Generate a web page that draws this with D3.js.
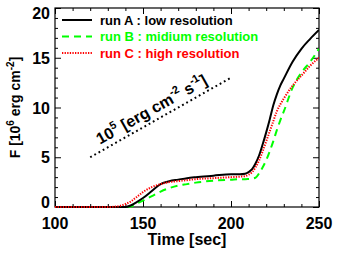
<!DOCTYPE html>
<html lang="en">
<head>
<meta charset="UTF-8">
<title>Flux vs time</title>
<script src="https://cdn.jsdelivr.net/npm/d3@7"></script>
<style>
    body { margin: 0; background: #ffffff; }
    svg text { font-family: "Liberation Sans", Arial, sans-serif; font-weight: bold; }
</style>
</head>
<body>
<div id="chart"></div>
<script>
    var WIDTH = 345;
    var HEIGHT = 256;
    var MARGIN = {top: 8, right: 26, bottom: 49, left: 55};

    // data
    var TIME = [100, 110, 120, 130, 135, 140, 143, 146, 150, 155, 160, 165, 170, 175, 180, 190, 200,
                205, 208, 210, 212, 214, 216, 218, 220, 222, 224, 226, 228, 230, 235, 240, 245, 250];
    var RUN_A = [0, 0, 0, 0, 0, 0, 0.15, 0.45, 0.9, 1.6, 2.3, 2.6, 2.75, 2.9, 3.0, 3.15, 3.3,
                 3.3, 3.35, 3.5, 3.8, 4.4, 5.2, 6.3, 7.5, 8.8, 10.2, 11.3, 12.2, 12.9, 14.6, 15.9, 16.9, 17.8];
    var RUN_B = [0, 0, 0, 0, 0, 0, 0.05, 0.3, 0.65, 1.1, 1.55, 1.9, 2.15, 2.3, 2.45, 2.65, 2.75,
                 2.8, 2.8, 2.82, 2.85, 2.95, 3.4, 4.0, 4.7, 5.6, 6.6, 7.7, 8.7, 9.6, 12.0, 13.5, 14.6, 15.9];
    var RUN_C = [0, 0, 0, 0, 0.05, 0.3, 0.55, 0.95, 1.5, 2.0, 2.3, 2.5, 2.6, 2.7, 2.8, 2.9, 3.0,
                 3.05, 3.1, 3.25, 3.5, 4.0, 4.7, 5.6, 6.6, 7.6, 8.6, 9.6, 10.3, 10.9, 12.2, 13.2, 14.2, 15.0];
    var SERIES_LABELS = ["run A : low resolution", "run B : midium resolution", "run C : high resolution"];
    var SERIES_COLORS = ["#000000", "#00ff00", "#ff0000"];
    var SERIES_DASH = [null, "7,5", "1.3,1.3"];
    var SLOPE_X = [120, 200];
    var SLOPE_Y = [5, 13];
    var X_TICKS = [100, 150, 200, 250];
    var Y_TICKS = [0, 5, 10, 15, 20];

    var innerW = WIDTH - MARGIN.left - MARGIN.right;
    var innerH = HEIGHT - MARGIN.top - MARGIN.bottom;

    var svg = d3.select("#chart").append("svg")
        .attr("width", WIDTH)
        .attr("height", HEIGHT);

    var g = svg.append("g")
        .attr("transform", "translate(" + MARGIN.left + "," + MARGIN.top + ")");

    var x = d3.scaleLinear().domain([100, 250]).range([0, innerW]);
    var y = d3.scaleLinear().domain([0, 20]).range([innerH, 0]);

    g.append("clipPath").attr("id", "plotClip")
        .append("rect").attr("width", innerW).attr("height", innerH + 1);

    // IDL style ticks on all four sides, pointing inward
    function tickAxis(axisFn, scale, majors, minorStep, transform) {
        var minors = d3.range(scale.domain()[0], scale.domain()[1] + 0.001, minorStep)
            .filter(function(v){ return majors.indexOf(v) === -1; });
        var a1 = g.append("g").attr("transform", transform)
            .call(axisFn(scale).tickValues(majors).tickSize(-6).tickFormat(""));
        var a2 = g.append("g").attr("transform", transform)
            .call(axisFn(scale).tickValues(minors).tickSize(-3).tickFormat(""));
        [a1, a2].forEach(function(a){
            a.select(".domain").remove();
            a.selectAll("line").attr("stroke", "#000").attr("stroke-width", 1);
        });
    }
    tickAxis(d3.axisBottom, x, X_TICKS, 10, "translate(0," + innerH + ")");
    tickAxis(d3.axisTop, x, X_TICKS, 10, "translate(0,0)");
    tickAxis(d3.axisLeft, y, Y_TICKS, 1, "translate(0,0)");
    tickAxis(d3.axisRight, y, Y_TICKS, 1, "translate(" + innerW + ",0)");

    g.append("rect")
        .attr("width", innerW).attr("height", innerH)
        .attr("fill", "none").attr("stroke", "#000").attr("stroke-width", 1.2);

    // tick labels
    g.selectAll("text.xl").data(X_TICKS).enter().append("text")
        .attr("class", "xl")
        .attr("x", function(d){ return x(d); })
        .attr("y", innerH + 21.5)
        .attr("text-anchor", "middle")
        .style("font-size", "16px")
        .text(function(d){ return d; });

    // end labels are kept just inside the frame, like the original
    g.selectAll("text.yl").data(Y_TICKS).enter().append("text")
        .attr("class", "yl")
        .attr("x", -5)
        .attr("y", function(d){ return Math.min(Math.max(y(d), 5), innerH - 5) + 6; })
        .attr("text-anchor", "end")
        .style("font-size", "16px")
        .text(function(d){ return d; });

    g.append("text")
        .attr("x", innerW / 2)
        .attr("y", innerH + 37.5)
        .attr("text-anchor", "middle")
        .style("font-size", "16px")
        .text("Time [sec]");

    var yTitle = svg.append("text")
        .attr("transform", "translate(20," + (MARGIN.top + innerH / 2) + ") rotate(-90)")
        .attr("text-anchor", "middle")
        .style("font-size", "14px");
    yTitle.append("tspan").text("F  [10");
    yTitle.append("tspan").attr("dy", -6).style("font-size", "10px").text("6");
    yTitle.append("tspan").attr("dy", 6).text(" erg cm");
    yTitle.append("tspan").attr("dy", -6).style("font-size", "10px").text("-2");
    yTitle.append("tspan").attr("dy", 6).text("]");

    // reference slope line
    var slopeData = SLOPE_X.map(function(v, i){ return [v, SLOPE_Y[i]]; });
    var line = d3.line()
        .x(function(d){ return x(d[0]); })
        .y(function(d){ return y(d[1]); });
    g.append("path")
        .datum(slopeData)
        .attr("d", line)
        .attr("fill", "none")
        .attr("stroke", "#000")
        .attr("stroke-width", 2)
        .attr("stroke-dasharray", "1.8,3");

    var angle = Math.atan2(y(SLOPE_Y[1]) - y(SLOPE_Y[0]), x(SLOPE_X[1]) - x(SLOPE_X[0])) * 180 / Math.PI;
    var midX = 158;
    var midY = SLOPE_Y[0] + (SLOPE_Y[1] - SLOPE_Y[0]) * (midX - SLOPE_X[0]) / (SLOPE_X[1] - SLOPE_X[0]);
    var slopeText = g.append("text")
        .attr("transform", "translate(" + x(midX) + "," + y(midY) + ") rotate(" + angle + ")")
        .attr("y", -6)
        .attr("text-anchor", "middle")
        .style("font-size", "16px");
    slopeText.append("tspan").text("10");
    slopeText.append("tspan").attr("dy", -7).style("font-size", "11px").text("5");
    slopeText.append("tspan").attr("dy", 7).text(" [erg cm");
    slopeText.append("tspan").attr("dy", -7).style("font-size", "11px").text("-2");
    slopeText.append("tspan").attr("dy", 7).text(" s");
    slopeText.append("tspan").attr("dy", -7).style("font-size", "11px").text("-1");
    slopeText.append("tspan").attr("dy", 7).text("]");

    // curves
    var curve = d3.line()
        .x(function(d){ return x(d[0]); })
        .y(function(d){ return y(d[1]); })
        .curve(d3.curveMonotoneX);
    var runs = [RUN_A, RUN_B, RUN_C];
    var drawOrder = [1, 0, 2];
    drawOrder.forEach(function(i){
        g.append("path")
            .datum(TIME.map(function(t, k){ return [t, runs[i][k]]; }))
            .attr("d", curve)
            .attr("clip-path", "url(#plotClip)")
            .attr("fill", "none")
            .attr("stroke", SERIES_COLORS[i])
            .attr("stroke-width", 2)
            .attr("stroke-dasharray", SERIES_DASH[i]);
    });

    // legend
    var legend = g.append("g").attr("transform", "translate(7,12)");
    SERIES_LABELS.forEach(function(lbl, i){
        var row = legend.append("g").attr("transform", "translate(0," + (i * 16.5) + ")");
        row.append("line")
            .attr("x1", 0).attr("x2", 30)
            .attr("stroke", SERIES_COLORS[i])
            .attr("stroke-width", 2)
            .attr("stroke-dasharray", SERIES_DASH[i]);
        row.append("text")
            .attr("x", 38).attr("y", 4.5)
            .style("font-size", "13px")
            .attr("fill", SERIES_COLORS[i])
            .text(lbl);
    });
</script>
</body>
</html>
